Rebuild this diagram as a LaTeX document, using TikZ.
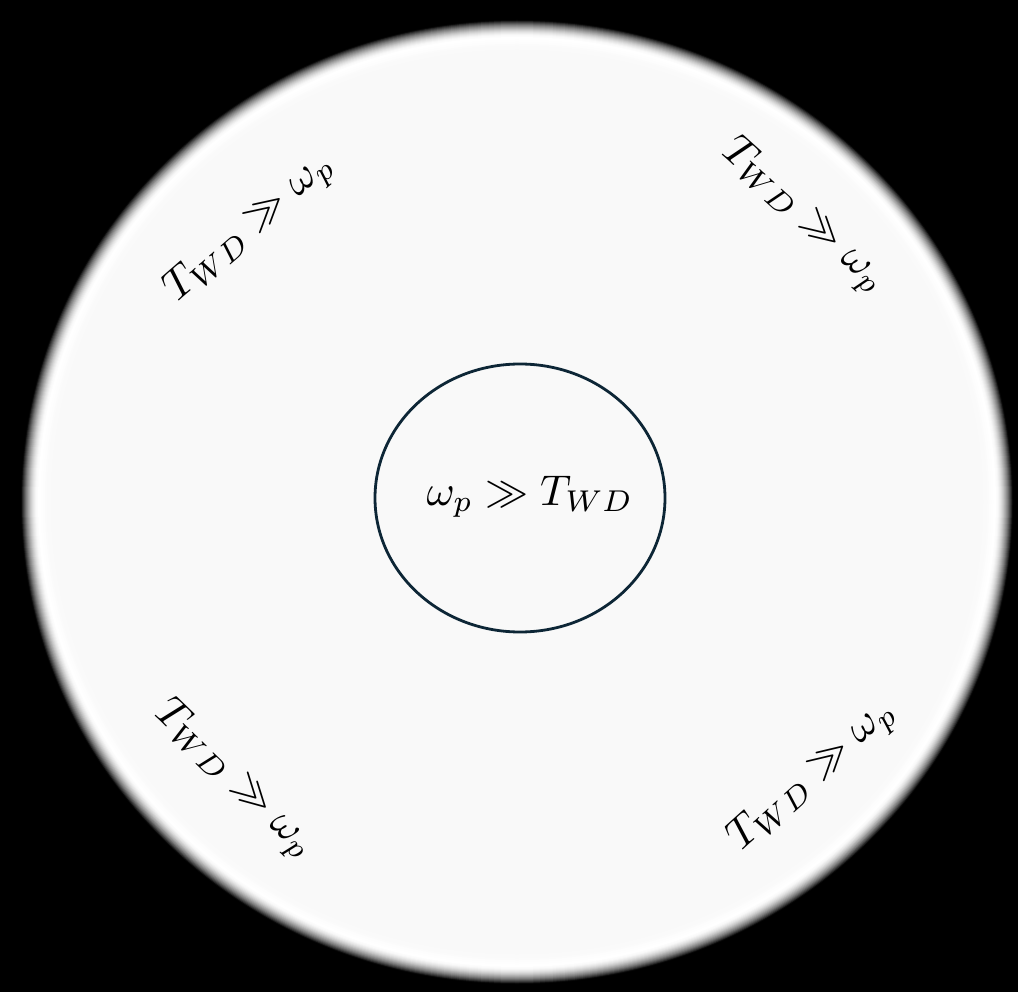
\documentclass[tikz,border=0pt]{standalone}
\usepackage{xcolor}
\usepackage{tikz}
\usetikzlibrary{shapes.geometric}

\definecolor{rimnavy}{HTML}{0D2636}
\definecolor{diskfill}{HTML}{F9F9F9}

\begin{document}
\begin{tikzpicture}[
  x=1pt, y=-1pt,
  core/.style={draw=rimnavy, line width=2.8pt, ellipse, minimum width=290pt, minimum height=268pt, inner sep=0pt},
  rel/.style={inner sep=1pt, scale=4.3}
]

% Background
\fill[black] (0,0) rectangle (1018,992);
\useasboundingbox (0,0) rectangle (1018,992);

% Outer disk with soft rim
\foreach \d in {20,19,...,0}{
  \pgfmathtruncatemacro\g{min(100,\d*\d*0.3)}
  \fill[black!\g] (517,502) ellipse ({478+\d} and {464+\d});
}
\foreach \d/\w in {10/20,8/40,6/60,4/80,0/100}
  \fill[diskfill!\w!white] (517,502) ellipse ({466+\d} and {452+\d});

% Inner region
\node[core] (core) at (520,498) {};
\node[rel] (inner) at (530,497) {$\omega_p \gg T_{WD}$};

% Outer regions
\node[rel, rotate=41]  (tl) at (250,228) {$T_{WD} \gg \omega_p$};
\node[rel, rotate=-42] (tr) at (803,216) {$T_{WD} \gg \omega_p$};
\node[rel, rotate=-44] (bl) at (234,780) {$T_{WD} \gg \omega_p$};
\node[rel, rotate=42]  (br) at (813,776) {$T_{WD} \gg \omega_p$};

\end{tikzpicture}
\end{document}
